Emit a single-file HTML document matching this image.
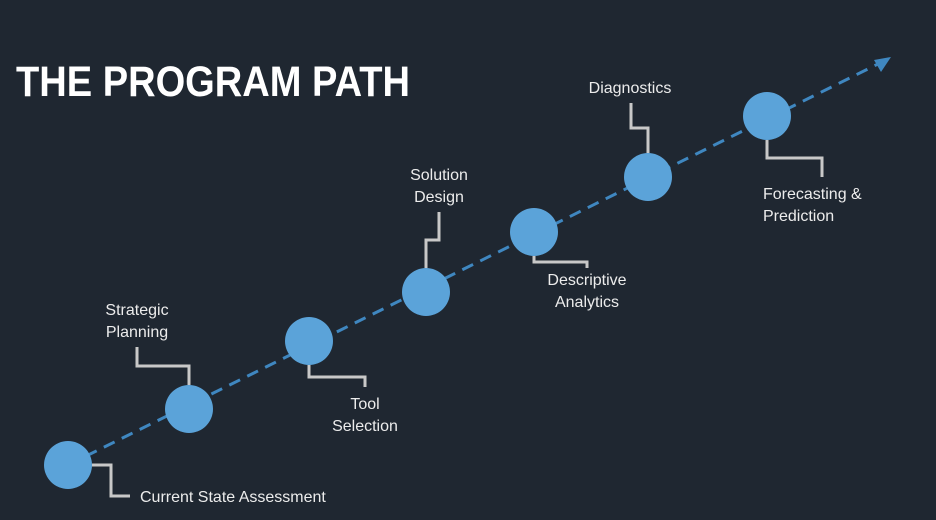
<!DOCTYPE html>
<html><head><meta charset="utf-8"><style>
html,body{margin:0;padding:0;background:#1f2731;}
svg{display:block;}
text{font-family:"Liberation Sans",sans-serif;fill:#ececec;}
</style></head><body>
<svg width="936" height="520" viewBox="0 0 936 520" xmlns="http://www.w3.org/2000/svg">
<rect width="936" height="520" fill="#1f2731"/>
<text x="16" y="96" font-size="43" font-weight="bold" textLength="394" lengthAdjust="spacingAndGlyphs" style="fill:#ffffff">THE PROGRAM PATH</text>
<line x1="68" y1="465" x2="880" y2="63" stroke="#3f87c0" stroke-width="3" stroke-dasharray="12,8"/>
<polygon points="891,57 874,60 881,72" fill="#3f87c0"/>
<g fill="none" stroke="#c8c8c8" stroke-width="3">
<polyline points="92,465 111,465 111,496 130,496"/>
<polyline points="189,385 189,366 137,366 137,347"/>
<polyline points="309,365 309,377 365,377 365,387"/>
<polyline points="426,268 426,240 439,240 439,212"/>
<polyline points="534,256 534,262 587,262 587,268"/>
<polyline points="648,153 648,128 631,128 631,103"/>
<polyline points="767,140 767,158 822,158 822,177"/>
</g>
<g fill="#5ba3d9">
<circle cx="68" cy="465" r="24"/>
<circle cx="189" cy="409" r="24"/>
<circle cx="309" cy="341" r="24"/>
<circle cx="426" cy="292" r="24"/>
<circle cx="534" cy="232" r="24"/>
<circle cx="648" cy="177" r="24"/>
<circle cx="767" cy="116" r="24"/>
</g>
<g font-size="16">
<text x="140" y="502">Current State Assessment</text>
<text x="137" y="315" text-anchor="middle">Strategic</text>
<text x="137" y="337" text-anchor="middle">Planning</text>
<text x="365" y="409" text-anchor="middle">Tool</text>
<text x="365" y="431" text-anchor="middle">Selection</text>
<text x="439" y="180" text-anchor="middle">Solution</text>
<text x="439" y="202" text-anchor="middle">Design</text>
<text x="587" y="285" text-anchor="middle">Descriptive</text>
<text x="587" y="307" text-anchor="middle">Analytics</text>
<text x="630" y="93" text-anchor="middle">Diagnostics</text>
<text x="763" y="199">Forecasting &amp;</text>
<text x="763" y="221">Prediction</text>
</g>
</svg>
</body></html>
